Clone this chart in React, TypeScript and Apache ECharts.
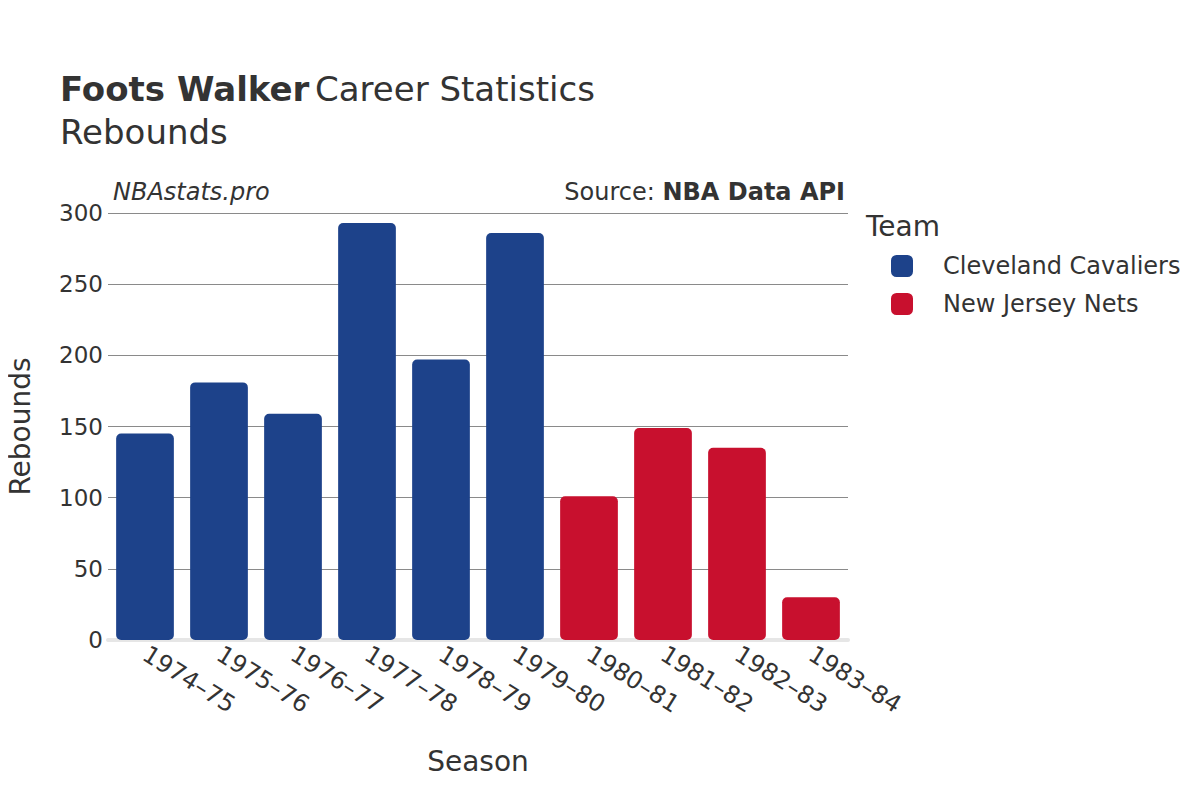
import React, { useEffect, useRef } from "react";
import * as echarts from "echarts";

const seasons = ["1974–75", "1975–76", "1976–77", "1977–78", "1978–79", "1979–80", "1980–81", "1981–82", "1982–83", "1983–84"];
const cavaliers = [145, 181, 159, 293, 197, 286, null, null, null, null];
const nets = [null, null, null, null, null, null, 101, 149, 135, 30];
const yTicks = [0, 50, 100, 150, 200, 250, 300];
const teamNames = ["Cleveland Cavaliers", "New Jersey Nets"];
const teamColors = ["#1d428a", "#c8102e"];

const FONT = "DejaVu Sans";

export default function App() {
  const ref = useRef<HTMLDivElement>(null);
  useEffect(() => {
    if (!ref.current) return;
    const chart = echarts.init(ref.current, null, { renderer: "svg" });
    const toData = (arr: (number | null)[]) => arr.map((v) => (v == null ? "-" : v));
    chart.setOption({
      animation: false,
      backgroundColor: "#ffffff",
      textStyle: { fontFamily: FONT },
      title: [
        {
          text: "{b|Foots Walker} {n|Career Statistics}",
          left: 55,
          top: 67,
          textStyle: {
            fontWeight: "normal",
            rich: {
              b: { fontFamily: FONT, fontWeight: "bold", fontSize: 34, color: "#333333" },
              n: { fontFamily: FONT, fontWeight: "normal", fontSize: 34, color: "#333333" },
            },
          },
        },
        {
          text: "Rebounds",
          left: 55,
          top: 110,
          textStyle: { fontFamily: FONT, fontSize: 34, fontWeight: "normal", color: "#333333" },
        },
      ],
      graphic: [
        {
          type: "text",
          left: 113,
          top: 180,
          style: { text: "NBAstats.pro", font: `italic 24px "${FONT}"`, fill: "#333333" },
        },
        {
          type: "text",
          right: 355,
          top: 180,
          style: {
            text: "{n|Source: }{b|NBA Data API}",
            rich: {
              n: { fontFamily: FONT, fontSize: 24, fill: "#333333" },
              b: { fontFamily: FONT, fontSize: 24, fontWeight: "bold", fill: "#333333" },
            },
          },
        },
        {
          type: "text",
          left: 866,
          top: 212,
          style: { text: "Team", font: `28px "${FONT}"`, fill: "#333333" },
        },
      ],
      legend: {
        orient: "vertical",
        left: 886,
        top: 249,
        icon: "roundRect",
        itemWidth: 22,
        itemHeight: 22,
        itemGap: 14,
        data: teamNames,
        textStyle: { fontFamily: FONT, fontSize: 24, color: "#333333", padding: [0, 0, 0, 25] },
      },
      grid: { left: 108, right: 352, top: 213, bottom: 160, containLabel: false, outerBoundsMode: "none" },
      xAxis: {
        type: "category",
        data: seasons,
        name: "Season",
        nameLocation: "middle",
        nameGap: 107,
        nameTextStyle: { fontFamily: FONT, fontSize: 28, color: "#333333" },
        axisLine: { show: true, lineStyle: { color: "#e6e6e6", width: 4 } },
        axisTick: { show: false },
        axisLabel: {
          rotate: -32,
          fontFamily: FONT,
          fontSize: 24,
          color: "#333333",
          margin: 12,
          interval: 0,
        },
      },
      yAxis: {
        type: "value",
        min: 0,
        max: 300,
        interval: 50,
        name: "Rebounds",
        nameLocation: "middle",
        nameGap: 74,
        nameTextStyle: { fontFamily: FONT, fontSize: 28, color: "#333333" },
        axisLine: { show: false },
        axisTick: { show: false },
        splitLine: { lineStyle: { color: "#8a8a8a", width: 1 } },
        axisLabel: {
          fontFamily: FONT,
          fontSize: 23,
          color: "#333333",
          margin: 5,
          formatter: (v: number) => (yTicks.includes(v) ? String(v) : ""),
        },
      },
      series: [
        {
          name: teamNames[0],
          type: "bar",
          stack: "t",
          data: toData(cavaliers),
          barWidth: "78%",
          itemStyle: { color: teamColors[0], borderRadius: 5 },
        },
        {
          name: teamNames[1],
          type: "bar",
          stack: "t",
          data: toData(nets),
          barWidth: "78%",
          itemStyle: { color: teamColors[1], borderRadius: 5 },
        },
      ],
    });
    return () => chart.dispose();
  }, []);
  return <div ref={ref} style={{ width: 1200, height: 800, margin: -8 }} />;
}
